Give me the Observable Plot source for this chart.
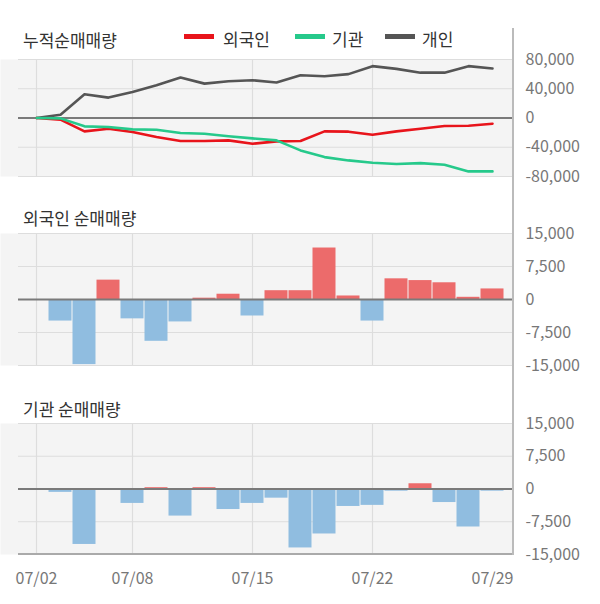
<!DOCTYPE html>
<html>
<head>
<meta charset="utf-8">
<script src="https://cdn.jsdelivr.net/npm/d3@7"></script>
<script src="https://cdn.jsdelivr.net/npm/@observablehq/plot@0.6"></script>
<style>
  html, body { margin: 0; padding: 0; background: #fff; }
  body { font-family: "Noto Sans CJK KR", "Noto Sans", sans-serif; }
  #chart { position: relative; width: 600px; height: 604px; overflow: hidden; }
  .panel { position: absolute; left: 0; }
  .title { position: absolute; left: 23px; font-size: 17px; line-height: 1; color: #333; }
  .lg-sw { position: absolute; top: 34px; width: 30px; height: 5px; }
  .lg-tx { position: absolute; top: 30px; font-size: 17px; line-height: 1; color: #333; }
</style>
</head>
<body>
<div id="chart">
  <div class="title" style="top:31px">누적순매매량</div>
  <div class="title" style="top:209px">외국인 순매매량</div>
  <div class="title" style="top:400px">기관 순매매량</div>
</div>
<script>
// ---- data ----
const dates = ["07/02","07/03","07/04","07/05","07/08","07/09","07/10","07/11","07/12","07/15",
               "07/16","07/17","07/18","07/19","07/22","07/23","07/24","07/25","07/26","07/29"];
const tickDates = ["07/02","07/08","07/15","07/22","07/29"];
const gridDates = ["07/02","07/08","07/15","07/22"];

const seriesNames = ["외국인", "기관", "개인"];
const seriesColors = ["#e8141b", "#26c98b", "#555555"];

// cumulative net buying
const cumForeign  = [0,-2300,-18300,-14600,-19200,-26000,-31500,-31500,-30600,-35200,
                     -32000,-31500,-18300,-18700,-22900,-18300,-14600,-11000,-10500,-7800];
const cumInst     = [0,-500,-11400,-12300,-15500,-16000,-20600,-21500,-25000,-27900,
                     -30600,-44300,-53500,-58000,-61300,-63000,-61700,-64000,-73000,-73000];
const cumPersonal = [0,4500,32500,27900,35700,44800,55300,47000,50300,51700,
                     48500,58500,57000,60000,70900,67200,62000,62000,70900,67700];

// daily net buying (no bar on 07/02)
const foreignDaily = [null,-4900,-14800,4400,-4400,-9500,-5100,300,1200,-3750,
                      2000,2000,11700,800,-4900,4700,4300,3800,500,2400];
const instDaily    = [null,-770,-12700,0,-3300,300,-6200,300,-4700,-3300,
                      -2100,-13500,-10300,-4000,-3750,-500,1200,-3100,-8700,-500];

const cumTicks = [80000, 40000, 0, -40000, -80000];
const dailyTicks = [15000, 7500, 0, -7500, -15000];

const posColor = "#ec6b6b";
const negColor = "#90bde0";

// ---- helpers ----
const fmt = d3.formatLocale({decimal: ".", thousands: ",", grouping: [3], currency: ["", ""], minus: "-"}).format(",");
const X_RANGE = [23.3, 504.8];
const W = 600, ML = 18, MR = 87;

function rightLine(top, bottomInset) {
  return (index, scales, values, dims) => {
    const x = dims.width - dims.marginRight;
    return d3.create("svg:line")
      .attr("x1", x).attr("x2", x)
      .attr("y1", top).attr("y2", dims.height - bottomInset)
      .attr("stroke", "#bbbbbb").attr("stroke-width", 2).node();
  };
}
function bottomLine() {
  return (index, scales, values, dims) => {
    const y = dims.height - dims.marginBottom;
    return d3.create("svg:line")
      .attr("x1", dims.marginLeft).attr("x2", dims.width - dims.marginRight + 1)
      .attr("y1", y).attr("y2", y)
      .attr("stroke", "#aaaaaa").attr("stroke-width", 2).node();
  };
}

function commonMarks(ticks) {
  return [
    Plot.frame({fill: "#f4f4f4", stroke: "none", insetLeft: -ML}),
    Plot.gridY({ticks, stroke: "#dddddd", strokeOpacity: 1, strokeWidth: 1}),
    Plot.gridX({ticks: gridDates, stroke: "#dddddd", strokeOpacity: 1, strokeWidth: 1.2}),
    Plot.axisY({anchor: "right", ticks, tickFormat: fmt, tickSize: 0, tickPadding: 12,
                fontSize: 16, color: "#777", label: null})
  ];
}

const style = {fontFamily: "'Noto Sans CJK KR', 'Noto Sans', sans-serif", fontSize: "16px", background: "transparent", overflow: "visible"};

// ---- panel 1: cumulative ----
const cumRows = [];
const cumData = [cumPersonal, cumForeign, cumInst];
const cumNames = ["개인", "외국인", "기관"];
cumData.forEach((arr, k) => arr.forEach((v, i) => cumRows.push({date: dates[i], series: cumNames[k], value: v})));

const p1 = Plot.plot({
  width: W, height: 200, marginTop: 59, marginBottom: 24, marginLeft: ML, marginRight: MR,
  style,
  x: {type: "band", domain: dates, range: X_RANGE, padding: 0, axis: null},
  y: {domain: [-80000, 80000], axis: null},
  color: {domain: seriesNames, range: seriesColors},
  marks: [
    ...commonMarks(cumTicks),
    Plot.ruleY([0], {stroke: "#7a7a7a", strokeWidth: 2}),
    Plot.line(cumRows, {x: "date", y: "value", z: "series", stroke: "series", strokeWidth: 2.6}),
    rightLine(28, 0)
  ]
});

// ---- panels 2 & 3: daily ----
function barRows(arr) {
  return arr.map((v, i) => ({date: dates[i], value: v})).filter(d => d.value != null);
}
function dailyPlot(arr, opts) {
  return Plot.plot({
    width: W, style,
    ...opts.size,
    marginLeft: ML, marginRight: MR,
    x: {type: "band", domain: dates, range: X_RANGE, padding: 0, axis: null},
    y: {domain: [-15000, 15000], axis: null},
    color: {type: "identity"},
    marks: [
      ...commonMarks(dailyTicks),
      Plot.barY(barRows(arr), {x: "date", y: "value", fill: d => d.value >= 0 ? posColor : negColor,
                               insetLeft: 0.5, insetRight: 0.5}),
      Plot.ruleY([0], {stroke: "#7a7a7a", strokeWidth: 2}),
      ...(opts.extra || [])
    ]
  });
}

const p2 = dailyPlot(foreignDaily, {size: {height: 200, marginTop: 33, marginBottom: 35},
  extra: [rightLine(0, 0)]});

const p3 = dailyPlot(instDaily, {size: {height: 204, marginTop: 23, marginBottom: 50},
  extra: [
    bottomLine(),
    rightLine(0, 49),
    Plot.axisX({ticks: tickDates, tickSize: 0, tickPadding: 18, fontSize: 16, color: "#777", label: null})
  ]});

const chart = document.getElementById("chart");
[[p1, 0], [p2, 200], [p3, 400]].forEach(([p, top]) => {
  p.classList.add("panel");
  p.style.top = top + "px";
  chart.appendChild(p);
});

// legend
const swLeft = [184, 295, 385];
const txLeft = [223, 332, 422];
seriesNames.forEach((n, i) => {
  const sw = document.createElement("div");
  sw.className = "lg-sw";
  sw.style.left = swLeft[i] + "px";
  sw.style.background = seriesColors[i];
  const t = document.createElement("div");
  t.className = "lg-tx";
  t.style.left = txLeft[i] + "px";
  t.textContent = n;
  chart.appendChild(sw);
  chart.appendChild(t);
});
</script>
</body>
</html>
